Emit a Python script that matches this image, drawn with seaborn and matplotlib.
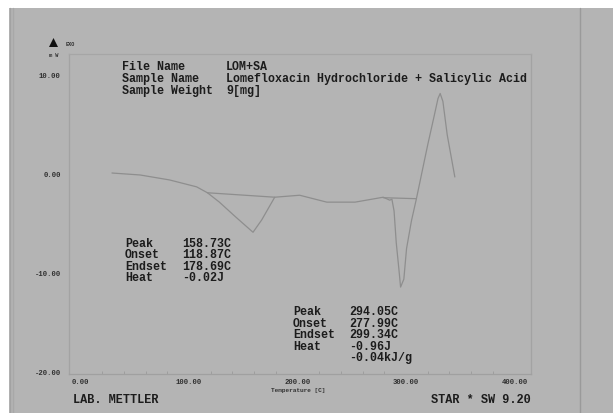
import matplotlib
matplotlib.use("Agg")
import matplotlib.pyplot as plt
import matplotlib.lines as mlines
import matplotlib.patches as mpatches
import seaborn as sns
import pandas as pd

# DSC trace: temperature [C] vs heat flow [mW]
temperature = [29, 55, 82, 107, 117, 128, 142, 159, 167, 179, 202, 227, 253,
               279, 285, 287, 289, 291, 293.5, 295, 298, 300.5, 305, 309.5,
               320, 325.5, 329.5, 331.5, 334, 338, 345]
heat_flow = [0.05, -0.15, -0.65, -1.35, -1.95, -2.9, -4.3, -5.95, -4.7, -2.4,
             -2.2, -2.9, -2.9, -2.4, -2.7, -2.6, -3.8, -7.0, -9.75, -11.5,
             -10.7, -7.6, -4.8, -2.6, 2.9, 5.6, 7.6, 8.1, 7.3, 3.9, -0.35]

# integration baselines of the two evaluated peaks
baseline1_t = [117, 179]
baseline1_y = [-1.95, -2.4]
baseline2_t = [279, 309.5]
baseline2_y = [-2.45, -2.55]

x_ticks = [0, 100, 200, 300, 400]
y_ticks = [10, 0, -10, -20]

header_keys = ["File Name", "Sample Name", "Sample Weight"]
header_vals = ["LOM+SA", "Lomefloxacin Hydrochloride + Salicylic Acid", "9[mg]"]

peak1_keys = ["Peak", "Onset", "Endset", "Heat"]
peak1_vals = ["158.73C", "118.87C", "178.69C", "-0.02J"]
peak2_keys = ["Peak", "Onset", "Endset", "Heat", ""]
peak2_vals = ["294.05C", "277.99C", "299.34C", "-0.96J", "-0.04kJ/g"]

BG = "#b4b4b4"
INK = "#1c1c1c"
CURVE = "#8e8e8e"
MONO = "Liberation Mono"

sns.set_theme(style="white")
plt.rcParams["font.family"] = [MONO, "DejaVu Sans Mono"]

W, H = 613, 414
fig = plt.figure(figsize=(W / 100, H / 100), dpi=100, facecolor="white")


def fx(px):
    return px / W


def fy(py):
    return 1 - py / H


# grey page with its left double rule and right rule
fig.patches.append(mpatches.Rectangle((fx(9), 0), 1 - fx(9), fy(9),
                                      transform=fig.transFigure,
                                      facecolor=BG, edgecolor="none", zorder=-2))
for px, col in [(10, "#a2a2a2"), (13, "#a8a8a8"), (580, "#9a9a9a")]:
    fig.lines.append(mlines.Line2D([fx(px), fx(px)], [0, fy(9)],
                                   transform=fig.transFigure,
                                   color=col, lw=1.0, zorder=-1))

ax = fig.add_axes([fx(69), fy(375), fx(531) - fx(69), fy(55) - fy(375)])
ax.set_facecolor(BG)

df = pd.DataFrame({"Temperature": temperature, "HeatFlow": heat_flow})
sns.lineplot(data=df, x="Temperature", y="HeatFlow", sort=False,
             color=CURVE, lw=0.9, ax=ax)
sns.lineplot(x=baseline1_t, y=baseline1_y, color=CURVE, lw=0.9, ax=ax)
sns.lineplot(x=baseline2_t, y=baseline2_y, color=CURVE, lw=0.9, ax=ax)

ax.set_xlim(-10.6, 415.2)
ax.set_ylim(-20.3, 12.1)
ax.set_xlabel("")
ax.set_ylabel("")

ax.set_xticks(x_ticks)
ax.set_xticklabels([f"{v:.2f}" for v in x_ticks])
ax.set_xticks(list(range(20, 400, 20)), minor=True)
ax.set_yticks(y_ticks)
ax.set_yticklabels([f"{v:.2f}" for v in y_ticks])
ax.tick_params(axis="x", which="major", length=2, width=0.6, color="#9a9a9a",
               direction="in", pad=3, labelsize=5.2, labelcolor="#303030")
ax.tick_params(axis="x", which="minor", length=2, width=0.6, color="#9a9a9a",
               direction="in", bottom=True)
ax.tick_params(axis="y", length=0, pad=6, labelsize=5.2, labelcolor="#303030")
for lab in ax.get_xticklabels() + ax.get_yticklabels():
    lab.set_fontweight("bold")

for side, col in [("left", "#a3a3a3"), ("right", "#a3a3a3"),
                  ("top", "#a6a6a6"), ("bottom", "#a0a0a0")]:
    ax.spines[side].set_visible(True)
    ax.spines[side].set_color(col)
    ax.spines[side].set_linewidth(0.9)


def block(keys, vals, x_key, x_val, y0, dy):
    for i, (k, v) in enumerate(zip(keys, vals)):
        y = y0 + i * dy
        if k:
            fig.text(fx(x_key), fy(y), k, ha="left", va="center",
                     fontsize=8.4, fontweight="bold", color=INK)
        fig.text(fx(x_val), fy(y), v, ha="left", va="center",
                 fontsize=8.4, fontweight="bold", color=INK)


block(header_keys, header_vals, 122, 226, 66.5, 12.3)
block(peak1_keys, peak1_vals, 125, 182, 244, 11.3)
block(peak2_keys, peak2_vals, 293, 349, 312.3, 11.4)

fig.text(fx(298), fy(391), "Temperature [C]", ha="center", va="center",
         fontsize=4.4, fontweight="bold", color="#303030")
fig.text(fx(73), fy(400), "LAB. METTLER", ha="left", va="center",
         fontsize=8.6, fontweight="bold", color=INK)
fig.text(fx(531), fy(400), "STAR * SW 9.20", ha="right", va="center",
         fontsize=8.6, fontweight="bold", color=INK)

# exothermic direction marker
fig.patches.append(mpatches.Polygon(
    [(fx(49), fy(48)), (fx(58), fy(48)), (fx(53.5), fy(39))],
    closed=True, transform=fig.transFigure, facecolor="#111111",
    edgecolor="none", zorder=3))
fig.text(fx(66), fy(44), "EXO", ha="left", va="center", fontsize=3.8,
         fontweight="bold", color="#303030")
fig.text(fx(53.5), fy(56), "m W", ha="center", va="center", fontsize=3.8,
         fontweight="bold", color="#303030")

fig.savefig("out.png", dpi=100, facecolor="white")
